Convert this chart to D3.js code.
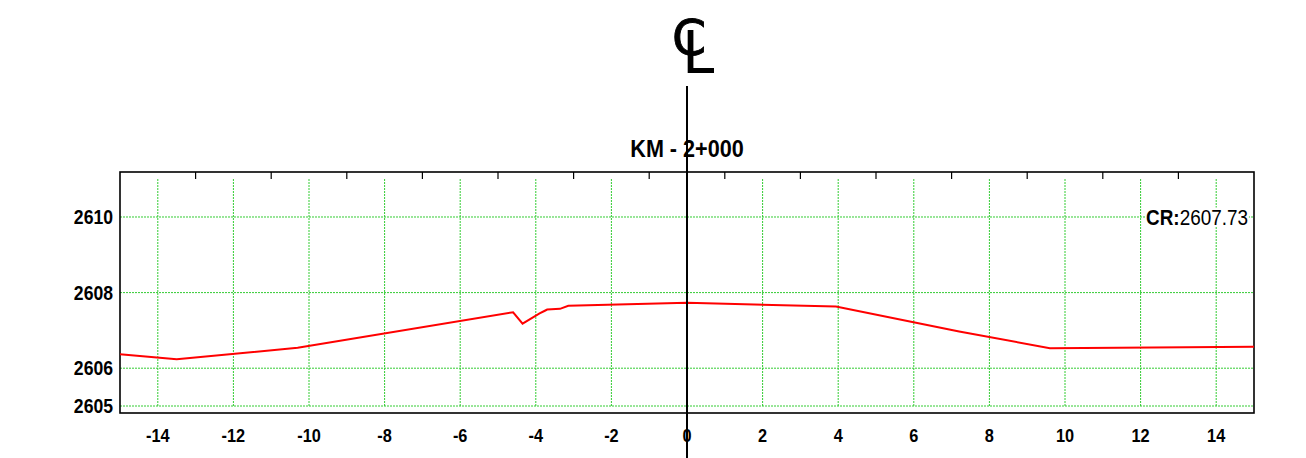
<!DOCTYPE html>
<html><head><meta charset="utf-8">
<script src="https://cdn.jsdelivr.net/npm/d3@7"></script>
<style>body{margin:0;background:#fff}svg{display:block}</style>
</head><body>
<svg id="c" width="1306" height="458"></svg>
<script>
const title = "KM - 2+000";
const offsets = [-15, -13.5, -10.3, -4.6, -4.35, -3.9, -3.76, -3.7, -3.36, -3.14, 0, 3.94, 7.2, 9.6, 15];
const elevations = [2606.37, 2606.24, 2606.54, 2607.48, 2607.18, 2607.45, 2607.52, 2607.55, 2607.57, 2607.65, 2607.73, 2607.63, 2606.97, 2606.53, 2606.57];
const xTicks = [-14, -12, -10, -8, -6, -4, -2, 0, 2, 4, 6, 8, 10, 12, 14];
const xMinorTicks = [-13, -11, -9, -7, -5, -3, -1, 1, 3, 5, 7, 9, 11, 13];
const yTicks = [2605, 2606, 2608, 2610];
const crLabel = "CR:";
const crValue = "2607.73";

const font = "'Liberation Sans',Arial,sans-serif";
const svg = d3.select("#c");
const L = 120, R = 1254, T = 172, B = 413;
const x = d3.scaleLinear().domain([-15, 15]).range([L, R]);
const y = d3.scaleLinear().domain([2604.815, 2611.19]).range([B, T]);
const green = "#33cc33";
const SX = 0.86;

// horizontal grid
svg.append("g").selectAll("line").data(yTicks).join("line")
  .attr("x1", L).attr("x2", R).attr("y1", d => y(d)).attr("y2", d => y(d))
  .attr("stroke", green).attr("stroke-width", 1).attr("stroke-dasharray", "2,1");
// vertical grid
svg.append("g").selectAll("line").data(xTicks).join("line")
  .attr("x1", d => x(d)).attr("x2", d => x(d)).attr("y1", T + 7).attr("y2", y(2605))
  .attr("stroke", green).attr("stroke-width", 1).attr("stroke-dasharray", "2,1");

// top minor ticks
svg.append("g").selectAll("line").data(xMinorTicks).join("line")
  .attr("x1", d => x(d)).attr("x2", d => x(d)).attr("y1", T).attr("y2", T + 7)
  .attr("stroke", "#000").attr("stroke-width", 1.2);

// frame
svg.append("rect").attr("x", L).attr("y", T).attr("width", R - L).attr("height", B - T)
  .attr("fill", "none").attr("stroke", "#000").attr("stroke-width", 1.6);

// profile
const pts = offsets.map((o, i) => [o, elevations[i]]);
svg.append("path").datum(pts)
  .attr("d", d3.line().x(d => x(d[0])).y(d => y(d[1])))
  .attr("fill", "none").attr("stroke", "#ff0000").attr("stroke-width", 2);

// y labels
svg.append("g").selectAll("g").data(yTicks).join("g")
  .attr("transform", d => `translate(${L - 7},${y(d)}) scale(0.88,1)`)
  .append("text").attr("dy", "0.36em")
  .attr("text-anchor", "end").attr("font-family", font).attr("font-weight", "bold")
  .attr("font-size", 20).text(d => d);
// x labels
svg.append("g").selectAll("g").data(xTicks).join("g")
  .attr("transform", d => `translate(${x(d)},442) scale(${SX},1)`)
  .append("text")
  .attr("text-anchor", "middle").attr("font-family", font).attr("font-weight", "bold")
  .attr("font-size", 19).text(d => d);

// title
svg.append("g").attr("transform", `translate(${x(0)},157) scale(0.9,1)`)
  .append("text").attr("text-anchor", "middle")
  .attr("font-family", font).attr("font-weight", "bold").attr("font-size", 24).text(title);

// CR label
const crg = svg.append("g").attr("transform", `translate(1248,${y(2610)}) scale(${SX},1)`);
const cr = crg.append("text").attr("dy", "0.36em")
  .attr("text-anchor", "end").attr("font-family", font).attr("font-size", 22);
cr.append("tspan").attr("font-weight", "bold").text(crLabel);
cr.append("tspan").text(crValue);
const bb = cr.node().getBBox();
crg.insert("rect", "text")
  .attr("x", bb.x - 1).attr("y", bb.y + 3).attr("width", bb.width + 2).attr("height", bb.height - 6)
  .attr("fill", "#fff");

// centerline
svg.append("line").attr("x1", x(0)).attr("x2", x(0)).attr("y1", 86).attr("y2", 458)
  .attr("stroke", "#000").attr("stroke-width", 2);

// CL symbol (one text element, two overlapping glyphs)
const cl = svg.append("text").attr("font-family", "'DejaVu Sans',sans-serif");
cl.append("tspan").attr("x", 672).attr("y", 55).attr("font-size", 49)
  .attr("stroke", "#000").attr("stroke-width", 0.9).text("C");
cl.append("tspan").attr("x", 682).attr("y", 73).attr("font-size", 58).text("L");
</script>
</body></html>
